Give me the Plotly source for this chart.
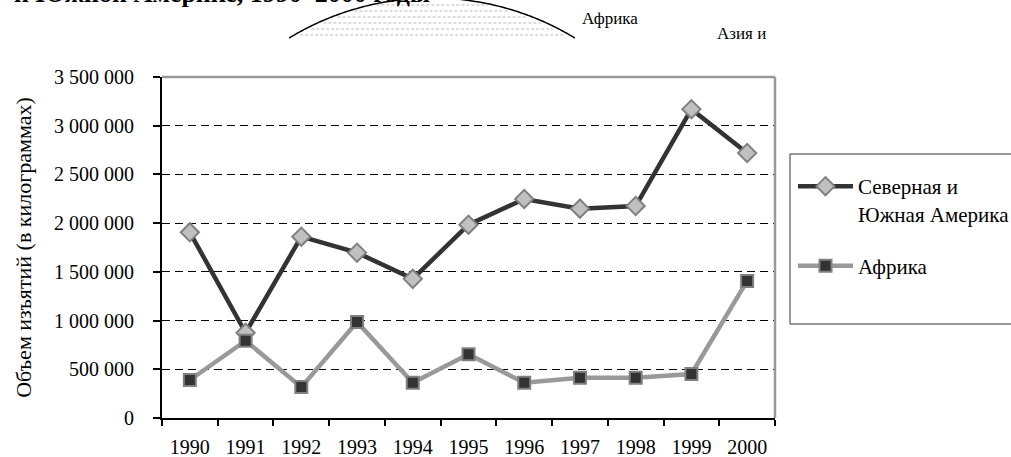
import numpy as np
import plotly.graph_objects as go

years = ["1990", "1991", "1992", "1993", "1994", "1995", "1996", "1997", "1998", "1999", "2000"]
americas = [1906000, 875000, 1861000, 1697000, 1428000, 1984000, 2248000, 2149000, 2176000, 3170000, 2720000]
africa = [390000, 793000, 317000, 986000, 362000, 655000, 362000, 414000, 414000, 452000, 1407000]
y_ticks = [0, 500000, 1000000, 1500000, 2000000, 2500000, 3000000, 3500000]

W, H = 1011, 457
L, R, T, B = 162, 775, 77, 418
FONT = "Liberation Serif, Times New Roman, DejaVu Serif, serif"

def px(x):
    return (x - L) / (R - L)

def py(y):
    return (B - y) / (B - T)

fig = go.Figure()
fig.add_trace(go.Scatter(
    x=years, y=americas, mode="lines+markers",
    name="Северная и<br>Южная Америка",
    line=dict(color="#333333", width=4.5),
    marker=dict(symbol="diamond", size=14, color="#c0c0c0", line=dict(color="#808080", width=2)),
    legendgroup="a",
))
fig.add_trace(go.Scatter(
    x=years, y=africa, mode="lines+markers",
    name="Африка",
    line=dict(color="#999999", width=4.5),
    marker=dict(symbol="square", size=12, color="#333333", line=dict(color="#808080", width=2)),
    legendgroup="b",
))

shapes = []
shapes.append(dict(type="line", xref="paper", yref="paper", x0=0, x1=1, y0=1, y1=1,
                   line=dict(color="#999999", width=2.5)))
shapes.append(dict(type="line", xref="paper", yref="paper", x0=1, x1=1, y0=0, y1=1,
                   line=dict(color="#999999", width=2.5)))
shapes.append(dict(type="rect", xref="paper", yref="paper",
                   x0=px(790), x1=px(1020), y0=py(324), y1=py(154),
                   line=dict(color="#333333", width=1), fillcolor="white", layer="below"))

# partial pie arc at top (cropped scan)
cx, R0 = 432, 275
cy = -2 + R0
ys = np.linspace(38, -2, 60)
xs_left = cx - np.sqrt(np.maximum(R0**2 - (ys - cy) ** 2, 0))
xs_right = cx + np.sqrt(np.maximum(R0**2 - (ys - cy) ** 2, 0))
pts = [(xs_left[i], ys[i]) for i in range(len(ys))] + [(xs_right[i], ys[i]) for i in range(len(ys) - 1, -1, -1)]
path = "M " + " L ".join(f"{px(x):.5f},{py(y):.5f}" for x, y in pts)
shapes.append(dict(type="path", xref="paper", yref="paper", path=path,
                   line=dict(color="black", width=1.5)))
for hy in [5, 11, 17, 23, 29, 35]:
    half = np.sqrt(R0**2 - (hy - cy) ** 2)
    shapes.append(dict(type="line", xref="paper", yref="paper",
                       x0=px(cx - half + 6), x1=px(cx + half - 6), y0=py(hy), y1=py(hy),
                       line=dict(color="#bbbbbb", width=1, dash="3px,2px")))

annotations = [
    dict(text="<b>и Южной Америке, 1990–2000 годы</b>", xref="paper", yref="paper",
         x=px(12), y=py(-7), xanchor="left", yanchor="middle", showarrow=False,
         font=dict(family=FONT, size=26, color="black")),
    dict(text="Африка", xref="paper", yref="paper", x=px(610), y=py(19),
         xanchor="center", yanchor="middle", showarrow=False,
         font=dict(family=FONT, size=17, color="black")),
    dict(text="Азия и", xref="paper", yref="paper", x=px(741), y=py(34),
         xanchor="center", yanchor="middle", showarrow=False,
         font=dict(family=FONT, size=17, color="black")),
]

fig.update_layout(
    width=W, height=H,
    margin=dict(l=L, r=W - R, t=T, b=H - B, pad=0, autoexpand=False),
    paper_bgcolor="white", plot_bgcolor="white",
    separators=", ",
    font=dict(family=FONT, size=20, color="black"),
    shapes=shapes, annotations=annotations,
    showlegend=True,
    legend=dict(x=px(793), y=py(166), xanchor="left", yanchor="top", valign="top",
                bgcolor="rgba(0,0,0,0)", borderwidth=0,
                font=dict(family=FONT, size=21, color="black"),
                traceorder="grouped", tracegroupgap=22, itemwidth=55),
)
fig.update_xaxes(
    type="category", tickson="boundaries", ticks="outside", ticklen=6, tickwidth=1.5,
    tickcolor="black", showline=True, linecolor="black", linewidth=2,
    showgrid=False, tickfont=dict(family=FONT, size=20), ticklabelstandoff=10,
    range=[-0.5, 10.5],
)
fig.update_yaxes(
    range=[0, 3500000], tickvals=y_ticks, tickformat=",d",
    ticks="outside", ticklen=7, tickwidth=1.5, tickcolor="black",
    showline=True, linecolor="black", linewidth=2,
    showgrid=True, gridcolor="black", gridwidth=1, griddash="8px,5px",
    zeroline=False, tickfont=dict(family=FONT, size=20), ticklabelstandoff=15,
    title=dict(text="Объем изъятий (в килограммах)", font=dict(family=FONT, size=22), standoff=16),
)

fig.write_html("out.html", config={"displayModeBar": False},
               post_script="document.body.style.margin='0';document.body.style.overflow='hidden';")
